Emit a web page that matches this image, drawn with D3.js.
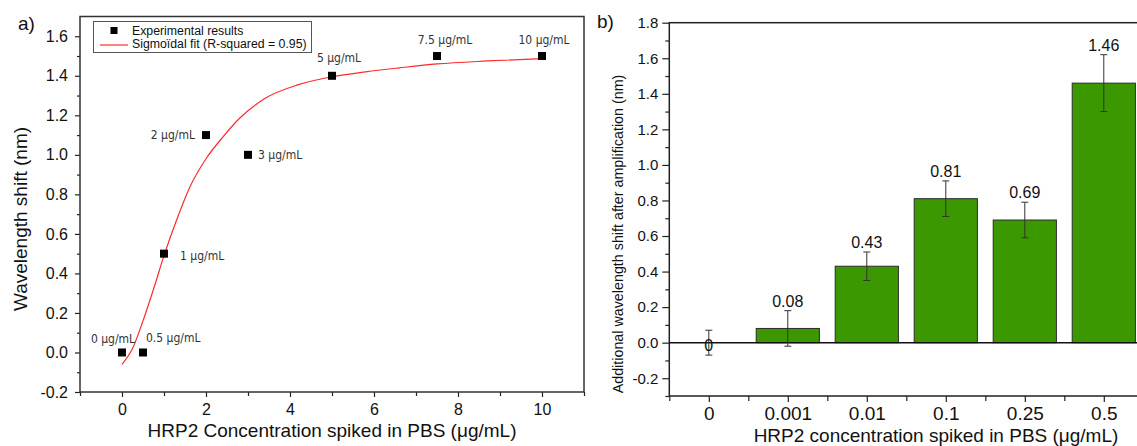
<!DOCTYPE html>
<html>
<head>
<meta charset="utf-8">
<script src="https://cdn.jsdelivr.net/npm/d3@7"></script>
<style>
  body { margin: 0; background: #fff; }
  svg { display: block; }
</style>
</head>
<body>
<div id="chart"></div>
<script>
// --- data: panel a) scatter + sigmoid fit
const concentrations = [0, 0.5, 1, 2, 3, 5, 7.5, 10];
const shifts = [0, 0, 0.5, 1.1, 1.0, 1.4, 1.5, 1.5];
const pointLabels = ['0 μg/mL', '0.5 μg/mL', '1 μg/mL', '2 μg/mL', '3 μg/mL', '5 μg/mL', '7.5 μg/mL', '10 μg/mL'];

// fitted curve
const fitX = [0, 0.25, 0.5, 0.75, 1, 1.3, 1.6, 2, 2.4, 2.8, 3.4, 4.2, 5, 5.8, 6.6, 7.5, 8.7, 10];
const fitY = [-0.06, 0.02, 0.16, 0.32, 0.49, 0.67, 0.83, 0.98, 1.09, 1.185, 1.285, 1.355, 1.395, 1.42, 1.44, 1.46, 1.475, 1.487];

// --- data: panel b) bars
const barCategories = ['0', '0.001', '0.01', '0.1', '0.25', '0.5'];
const barValues = [0, 0.08, 0.43, 0.81, 0.69, 1.46];
const barErrors = [0.07, 0.10, 0.08, 0.10, 0.10, 0.16];

// --- tick values
const aYTicks = [-0.2, 0, 0.2, 0.4, 0.6, 0.8, 1.0, 1.2, 1.4, 1.6];
const aXTicks = [0, 2, 4, 6, 8, 10];
const bYTicks = [-0.2, 0, 0.2, 0.4, 0.6, 0.8, 1.0, 1.2, 1.4, 1.6, 1.8];

const width = 1137;
const height = 446;
const sans = 'Liberation Sans, Arial, sans-serif';
const narrow = "'Liberation Sans Narrow', 'DejaVu Sans Condensed', sans-serif";

const svg = d3.select('#chart')
  .append('svg')
  .attr('width', width)
  .attr('height', height)
  .attr('viewBox', [0, 0, width, height]);

// helper: axis with major + minor ticks, no domain line
function drawAxis(g, axis, fontSize) {
  g.call(axis);
  g.select('.domain').remove();
  g.selectAll('line').attr('stroke', '#222').attr('stroke-width', 1.2);
  g.selectAll('text')
    .attr('font-family', sans)
    .attr('font-size', fontSize)
    .attr('fill', '#111');
}

// ================= panel a) =================
const ax = d3.scaleLinear().domain([-1, 11]).range([80, 584]);
const ay = d3.scaleLinear().domain([-0.2, 1.7]).range([392, 16.5]);

const panelA = svg.append('g').attr('class', 'panel-a');

// minor ticks
drawAxis(panelA.append('g').attr('transform', `translate(${ax.range()[0]},0)`),
  d3.axisLeft(ay).tickValues(d3.range(-1, 16, 2).map(d => d / 10)).tickSize(3).tickFormat(''));
drawAxis(panelA.append('g').attr('transform', `translate(0,${ay.range()[0]})`),
  d3.axisBottom(ax).tickValues(d3.range(-1, 12, 2)).tickSize(4).tickFormat(''));

// major ticks
drawAxis(panelA.append('g').attr('transform', `translate(${ax.range()[0]},0)`),
  d3.axisLeft(ay).tickValues(aYTicks).tickSize(5).tickPadding(7).tickFormat(d => d.toFixed(1)), 16);
drawAxis(panelA.append('g').attr('transform', `translate(0,${ay.range()[0]})`),
  d3.axisBottom(ax).tickValues(aXTicks).tickSize(5).tickPadding(7), 16);

// frame
panelA.append('rect')
  .attr('x', ax.range()[0])
  .attr('y', ay.range()[1])
  .attr('width', ax.range()[1] - ax.range()[0])
  .attr('height', ay.range()[0] - ay.range()[1])
  .attr('fill', 'none')
  .attr('stroke', '#333')
  .attr('stroke-width', 1.5);

// sigmoid fit
const fitLine = d3.line()
  .x((d, i) => ax(fitX[i]))
  .y(d => ay(d))
  .curve(d3.curveMonotoneX);

panelA.append('path')
  .attr('d', fitLine(fitY))
  .attr('fill', 'none')
  .attr('stroke', '#ff2a2a')
  .attr('stroke-width', 1.2);

// points
const points = concentrations.map((c, i) => ({ x: c, y: shifts[i], label: pointLabels[i] }));

panelA.selectAll('.point')
  .data(points)
  .join('rect')
    .attr('class', 'point')
    .attr('x', d => ax(d.x) - 4)
    .attr('y', d => ay(d.y) - 4)
    .attr('width', 8)
    .attr('height', 8)
    .attr('fill', '#000');

// label placement relative to each point: [dx, dy, anchor]
const labelPlacement = [
  [-9, -9, 'middle'], [3, -10, 'start'], [16, 6, 'start'], [-11, 4, 'end'],
  [10, 4, 'start'], [7, -14, 'middle'], [8, -12, 'middle'], [2, -12, 'middle']
];

panelA.selectAll('.point-label')
  .data(points)
  .join('text')
    .attr('class', 'point-label')
    .attr('x', (d, i) => ax(d.x) + labelPlacement[i][0])
    .attr('y', (d, i) => ay(d.y) + labelPlacement[i][1])
    .attr('text-anchor', (d, i) => labelPlacement[i][2])
    .attr('font-family', narrow)
    .attr('font-size', 12)
    .attr('fill', '#333')
    .text(d => d.label);

// legend
const legend = panelA.append('g');
legend.append('rect')
  .attr('x', 93.5).attr('y', 21.5)
  .attr('width', 218).attr('height', 31)
  .attr('fill', '#fff')
  .attr('stroke', '#555')
  .attr('stroke-width', 1);
legend.append('rect')
  .attr('x', 110.5).attr('y', 27)
  .attr('width', 7).attr('height', 7)
  .attr('fill', '#000');
legend.append('line')
  .attr('x1', 100).attr('x2', 128)
  .attr('y1', 45).attr('y2', 45)
  .attr('stroke', '#ff2a2a')
  .attr('stroke-width', 1.2);
legend.selectAll('.legend-text')
  .data(['Experimental results', 'Sigmoïdal fit (R-squared = 0.95)'])
  .join('text')
    .attr('x', 132)
    .attr('y', (d, i) => 34.5 + i * 13.5)
    .attr('font-family', sans)
    .attr('font-size', 12.3)
    .attr('fill', '#111')
    .text(d => d);

// titles
panelA.append('text')
  .attr('x', 332)
  .attr('y', 437)
  .attr('text-anchor', 'middle')
  .attr('font-family', sans)
  .attr('font-size', 19)
  .attr('fill', '#111')
  .text('HRP2 Concentration spiked in PBS (μg/mL)');

panelA.append('text')
  .attr('transform', 'translate(27,219) rotate(-90)')
  .attr('text-anchor', 'middle')
  .attr('font-family', sans)
  .attr('font-size', 19)
  .attr('fill', '#111')
  .text('Wavelength shift (nm)');

panelA.append('text')
  .attr('x', 18).attr('y', 30)
  .attr('font-family', sans)
  .attr('font-size', 19)
  .attr('fill', '#111')
  .text('a)');

// ================= panel b) =================
const bx = d3.scaleLinear().domain([-0.5, 5.5]).range([669.3, 1143.3]);
const by = d3.scaleLinear().domain([-0.3, 1.8]).range([396, 22.7]);
const slot = bx(1) - bx(0);
const barWidth = slot * 0.8;

const panelB = svg.append('g').attr('class', 'panel-b');

// minor ticks
drawAxis(panelB.append('g').attr('transform', `translate(${bx.range()[0]},0)`),
  d3.axisLeft(by).tickValues(d3.range(-3, 18, 2).map(d => d / 10)).tickSize(4).tickFormat(''));
drawAxis(panelB.append('g').attr('transform', `translate(0,${by.range()[0]})`),
  d3.axisBottom(bx).tickValues(d3.range(-0.5, 5.6, 1)).tickSize(5).tickFormat(''));

// major ticks
drawAxis(panelB.append('g').attr('transform', `translate(${bx.range()[0]},0)`),
  d3.axisLeft(by).tickValues(bYTicks).tickSize(7).tickPadding(4).tickFormat(d => d.toFixed(1)), 15);
drawAxis(panelB.append('g').attr('transform', `translate(0,${by.range()[0]})`),
  d3.axisBottom(bx).tickValues(d3.range(barCategories.length)).tickSize(6).tickPadding(5)
    .tickFormat(i => barCategories[i]), 19);

// frame
panelB.append('rect')
  .attr('x', bx.range()[0])
  .attr('y', by.range()[1])
  .attr('width', bx.range()[1] - bx.range()[0])
  .attr('height', by.range()[0] - by.range()[1])
  .attr('fill', 'none')
  .attr('stroke', '#222')
  .attr('stroke-width', 1.5);

const bars = barValues.map((v, i) => ({ i, v, err: barErrors[i] }));

// bars
panelB.selectAll('.bar')
  .data(bars.filter(d => d.v > 0))
  .join('rect')
    .attr('class', 'bar')
    .attr('x', d => bx(d.i) - barWidth / 2)
    .attr('y', d => by(d.v))
    .attr('width', barWidth)
    .attr('height', d => by(0) - by(d.v))
    .attr('fill', '#3c9800')
    .attr('stroke', '#2b2b2b')
    .attr('stroke-width', 1);

// zero line
panelB.append('line')
  .attr('x1', bx.range()[0]).attr('x2', bx.range()[1])
  .attr('y1', by(0)).attr('y2', by(0))
  .attr('stroke', '#111')
  .attr('stroke-width', 1.5);

// error bars
const errG = panelB.append('g')
  .attr('stroke', '#333')
  .attr('stroke-width', 1);
errG.selectAll('.err')
  .data(bars)
  .join('line')
    .attr('x1', d => bx(d.i)).attr('x2', d => bx(d.i))
    .attr('y1', d => by(d.v + d.err)).attr('y2', d => by(d.v - d.err));
errG.selectAll('.cap-top')
  .data(bars)
  .join('line')
    .attr('x1', d => bx(d.i) - 3.5).attr('x2', d => bx(d.i) + 3.5)
    .attr('y1', d => by(d.v + d.err)).attr('y2', d => by(d.v + d.err));
errG.selectAll('.cap-bottom')
  .data(bars)
  .join('line')
    .attr('x1', d => bx(d.i) - 3.5).attr('x2', d => bx(d.i) + 3.5)
    .attr('y1', d => by(d.v - d.err)).attr('y2', d => by(d.v - d.err));

// value labels
panelB.selectAll('.value-label')
  .data(bars)
  .join('text')
    .attr('class', 'value-label')
    .attr('x', d => bx(d.i))
    .attr('y', d => d.v > 0 ? by(d.v + d.err) - 4 : by(d.v) + 8)
    .attr('text-anchor', 'middle')
    .attr('font-family', sans)
    .attr('font-size', 16)
    .attr('fill', '#111')
    .text(d => String(d.v));

// titles
panelB.append('text')
  .attr('x', 936)
  .attr('y', 442)
  .attr('text-anchor', 'middle')
  .attr('font-family', sans)
  .attr('font-size', 19)
  .attr('fill', '#111')
  .text('HRP2 concentration spiked in PBS (μg/mL)');

panelB.append('text')
  .attr('transform', 'translate(623,234) rotate(-90)')
  .attr('text-anchor', 'middle')
  .attr('font-family', sans)
  .attr('font-size', 14.3)
  .attr('fill', '#111')
  .text('Additional wavelength shift after amplification (nm)');

panelB.append('text')
  .attr('x', 597).attr('y', 28)
  .attr('font-family', sans)
  .attr('font-size', 19)
  .attr('fill', '#111')
  .text('b)');
</script>
</body>
</html>
